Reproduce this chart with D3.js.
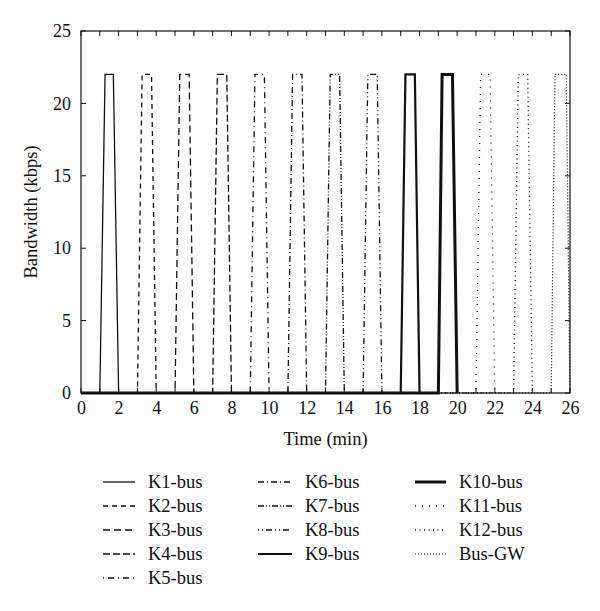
<html lang="en">
<head>
<meta charset="UTF-8"/>
<title>Bandwidth per bus</title>
<script src="https://d3js.org/d3.v7.min.js"></script>
<style>
  body { margin: 0; background: #fff; }
  text { font-family: "Liberation Serif", "DejaVu Serif", serif; fill: #111; }
</style>
</head>
<body>
<svg id="chart" width="600" height="611"></svg>
<script>
// series names (legend order)
const names = ["K1-bus", "K2-bus", "K3-bus", "K4-bus", "K5-bus", "K6-bus", "K7-bus",
               "K8-bus", "K9-bus", "K10-bus", "K11-bus", "K12-bus", "Bus-GW"];

// [time (min), bandwidth (kbps)] per series
const k1  = [[0, 0], [1, 0], [1.28, 22], [1.72, 22], [2, 0]];
const k2  = [[0, 0], [3, 0], [3.25, 22], [3.75, 22], [4, 0]];
const k3  = [[0, 0], [5, 0], [5.25, 22], [5.75, 22], [6, 0]];
const k4  = [[0, 0], [7, 0], [7.25, 22], [7.75, 22], [8, 0]];
const k5  = [[0, 0], [9, 0], [9.25, 22], [9.75, 22], [10, 0]];
const k6  = [[0, 0], [11, 0], [11.25, 22], [11.75, 22], [12, 0]];
const k7  = [[0, 0], [13, 0], [13.25, 22], [13.75, 22], [14, 0]];
const k8  = [[0, 0], [15, 0], [15.25, 22], [15.75, 22], [16, 0]];
const k9  = [[0, 0], [17, 0], [17.25, 22], [17.75, 22], [18, 0]];
const k10 = [[0, 0], [19, 0], [19.2, 22], [19.75, 22], [20, 0]];
const k11 = [[0, 0], [21, 0], [21.25, 22], [21.75, 22], [22, 0]];
const k12 = [[0, 0], [23, 0], [23.25, 22], [23.75, 22], [24, 0]];
const gw  = [[0, 0], [25, 0], [25.2, 22], [25.8, 22], [26, 0]];
const seriesValues = [k1, k2, k3, k4, k5, k6, k7, k8, k9, k10, k11, k12, gw];

const xTicks = [0, 2, 4, 6, 8, 10, 12, 14, 16, 18, 20, 22, 24, 26];
const xMinor = d3.range(0, 27, 1);
const yTicks = [0, 5, 10, 15, 20, 25];

// line styles, one per series
const dashes = [null, "5,4", "7,4", "7,3", "1,4,6,4", "6,3,1,3", "6,2,1,2,1,2",
                "1,3,1,3,6,3", null, null, "1,6", "1,3.5", "1,2"];
const widths = [1.3, 1.3, 1.3, 1.3, 1.3, 1.3, 1.3, 1.3, 2.2, 3, 1.3, 1.3, 1.2];

const svg = d3.select("#chart");
const m = {left: 81, right: 570, top: 31, bottom: 393};

const x = d3.scaleLinear().domain([0, 26]).range([m.left, m.right]);
const y = d3.scaleLinear().domain([0, 25]).range([m.bottom, m.top]);

// frame
svg.append("rect")
  .attr("x", m.left).attr("y", m.top)
  .attr("width", m.right - m.left).attr("height", m.bottom - m.top)
  .attr("fill", "none").attr("stroke", "#111").attr("stroke-width", 1.2);

// inward ticks
const tickG = svg.append("g").attr("stroke", "#111").attr("stroke-width", 1);
xMinor.forEach(function(t) {
  tickG.append("line").attr("x1", x(t)).attr("x2", x(t)).attr("y1", m.bottom).attr("y2", m.bottom - 5);
  tickG.append("line").attr("x1", x(t)).attr("x2", x(t)).attr("y1", m.top).attr("y2", m.top + 5);
});
yTicks.forEach(function(v) {
  tickG.append("line").attr("x1", m.left).attr("x2", m.left + 5).attr("y1", y(v)).attr("y2", y(v));
  tickG.append("line").attr("x1", m.right).attr("x2", m.right - 5).attr("y1", y(v)).attr("y2", y(v));
});

// tick labels via axes
const xAxis = svg.append("g")
  .attr("transform", "translate(0," + m.bottom + ")")
  .call(d3.axisBottom(x).tickValues(xTicks).tickSize(0).tickPadding(8));
const yAxis = svg.append("g")
  .attr("transform", "translate(" + m.left + ",0)")
  .call(d3.axisLeft(y).tickValues(yTicks).tickSize(0).tickPadding(10));
[xAxis, yAxis].forEach(function(a) {
  a.select(".domain").remove();
  a.selectAll("text").style("font-family", "'Liberation Serif', serif").style("font-size", "18px").attr("fill", "#111");
});

// series
const line = d3.line().x(d => x(d[0])).y(d => y(d[1]));
seriesValues.forEach(function(s, i) {
  svg.append("path")
    .attr("d", line(s))
    .attr("fill", "none")
    .attr("stroke", "#111")
    .attr("stroke-width", widths[i])
    .attr("stroke-dasharray", dashes[i])
    .attr("stroke-linejoin", "miter");
});

// axis titles
svg.append("text")
  .attr("x", (m.left + m.right) / 2).attr("y", 445)
  .attr("text-anchor", "middle").style("font-size", "18.5px")
  .text("Time (min)");
svg.append("text")
  .attr("transform", "translate(37," + ((m.top + m.bottom) / 2) + ") rotate(-90)")
  .attr("text-anchor", "middle").style("font-size", "18.5px")
  .text("Bandwidth (kbps)");

// legend, three columns
const cols = [{x1: 103, x2: 135, tx: 148, n: 5}, {x1: 258, x2: 292, tx: 305, n: 4}, {x1: 415, x2: 446, tx: 459, n: 4}];
let idx = 0;
cols.forEach(function(c) {
  for (let r = 0; r < c.n; r++, idx++) {
    const yy = 482 + r * 24;
    svg.append("line")
      .attr("x1", c.x1).attr("x2", c.x2).attr("y1", yy).attr("y2", yy)
      .attr("stroke", "#111").attr("stroke-width", widths[idx])
      .attr("stroke-dasharray", dashes[idx]);
    svg.append("text")
      .attr("x", c.tx).attr("y", yy + 6)
      .style("font-size", "18.5px")
      .text(names[idx]);
  }
});
</script>
</body>
</html>
